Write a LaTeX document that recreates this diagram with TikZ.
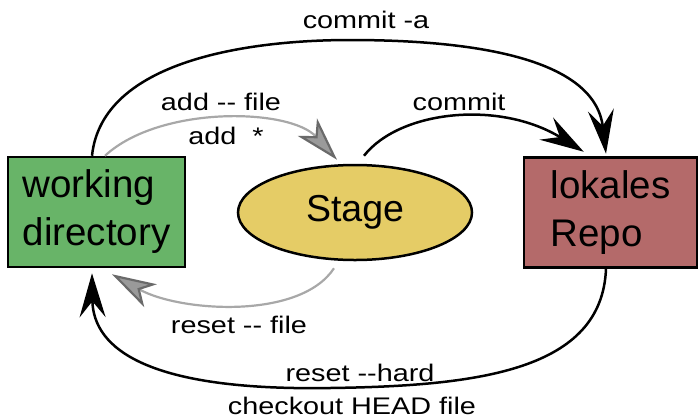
\documentclass[tikz,border=0pt]{standalone}
\usepackage{fontspec}
\setmainfont{Liberation Sans}
\usetikzlibrary{arrows.meta,shapes.geometric,calc}

\definecolor{wdgreen}{HTML}{68B468}
\definecolor{repored}{HTML}{B46A6A}
\definecolor{stageyellow}{HTML}{E5CC66}
\definecolor{softgray}{HTML}{A8A8A8}
\definecolor{tipgray}{HTML}{9A9A9A}
\definecolor{tipedge}{HTML}{6A6A6A}

\tikzset{
  boxnode/.style={draw=black, line width=2.5pt, minimum height=110pt,
    align=left, inner sep=0pt,
    font=\fontsize{38.5}{48}\selectfont},
  stagenode/.style={draw=black, line width=2.5pt, ellipse, fill=stageyellow,
    minimum width=234pt, minimum height=95pt, inner sep=0pt,
    font=\fontsize{37.5}{45}\selectfont},
  mainflow/.style={draw=black, line width=2.5pt,
    -{Stealth[length=44pt, width=26pt, inset=16pt]}},
  stageflow/.style={draw=softgray, line width=2.2pt,
    -{Stealth[length=44pt, width=26pt, inset=12pt, fill=tipgray, color=tipedge]}},
  cmdlabel/.style={anchor=base, inner sep=0pt,
    font=\fontsize{24}{28}\selectfont}
}
\newcommand{\cmdtext}[1]{\scalebox{1.2}[1]{#1}}

\begin{document}
\begin{tikzpicture}[x=1pt, y=-1pt]
  \useasboundingbox (0,0) rectangle (700,418);

  % the three places a file can live
  \node[boxnode, fill=wdgreen, minimum width=177pt] (wd) at (96.5,212)
    {working\\directory};
  \node[stagenode] (stage) at (355,212.5) {Stage};
  \node[boxnode, fill=repored, minimum width=173pt] (repo) at (610.5,212.5)
    {lokales\\Repo};

  % end points of the connectors
  \coordinate (ca1) at ($(wd.north)+(-4.5,0)$);
  \coordinate (ca2) at ($(repo.north)+(-4.5,-2.5)$);
  \coordinate (cm1) at ($(stage.north)+(9,-8)$);
  \coordinate (cm2) at ($(repo.north west)+(61,-4.5)$);
  \coordinate (ad1) at ($(wd.north)+(8.5,0)$);
  \coordinate (ad2) at ($(stage.north)+(-18,-4)$);
  \coordinate (rf1) at ($(stage.south)+(-21,7)$);
  \coordinate (rf2) at ($(wd.south)+(15.5,6)$);
  \coordinate (rh1) at ($(repo.south)+(-4.5,0)$);
  \coordinate (rh2) at ($(wd.south)+(-4.5,5)$);

  % commits
  \draw[mainflow] (ca1) .. controls (102,60) and (250,40) .. (350,40)
    .. controls (480,40) and (595,60) .. (ca2);
  \draw[mainflow] (cm1) .. controls (400,110) and (500,100) .. (cm2);

  % staging and unstaging
  \draw[stageflow] (ad1) .. controls (160,105) and (290,108) .. (ad2);
  \draw[stageflow] (rf1) .. controls (300,320) and (180,312) .. (rf2);

  % hard reset / checkout
  \draw[mainflow] (rh1) .. controls (602,370) and (480,386) .. (330,388)
    .. controls (150,391) and (93,350) .. (rh2);

  % command labels
  \node[cmdlabel] (lca) at (366,28) {\cmdtext{commit -a}};
  \node[cmdlabel] (lcm) at (459,110) {\cmdtext{commit}};
  \node[cmdlabel] (lad) at (221,110) {\cmdtext{add -{}- file}};
  \node[cmdlabel] (las) at (226,144) {\cmdtext{add\ \ *}};
  \node[cmdlabel] (lrf) at (239,333) {\cmdtext{reset -{}- file}};
  \node[cmdlabel] (lrh) at (360,381) {\cmdtext{reset -{}-hard}};
  \node[cmdlabel] (lco) at (352,414) {\cmdtext{checkout HEAD file}};
\end{tikzpicture}
\end{document}
